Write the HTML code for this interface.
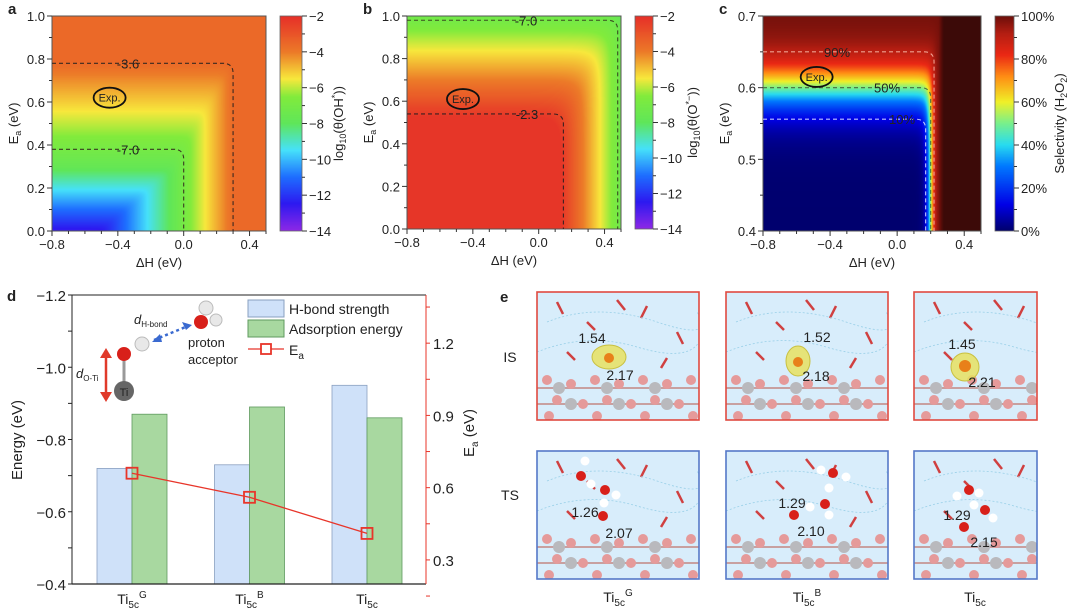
<!DOCTYPE html>
<html><head><meta charset="utf-8">
<style>
html,body{margin:0;padding:0;background:#fff;}
#wrap{position:relative;width:1080px;height:613px;overflow:hidden;font-family:"Liberation Sans",sans-serif;}
canvas{position:absolute;}
svg{position:absolute;left:0;top:0;}
text{font-family:"Liberation Sans",sans-serif;fill:#222;}
</style></head>
<body>
<div id="wrap">
<canvas id="ca" width="214" height="215" style="left:52px;top:16px"></canvas>
<canvas id="cba" width="22" height="215" style="left:280px;top:16px"></canvas>
<canvas id="cb" width="214" height="213" style="left:407px;top:16px"></canvas>
<canvas id="cbb" width="18" height="213" style="left:635px;top:16px"></canvas>
<canvas id="cc" width="218" height="215" style="left:763px;top:16px"></canvas>
<canvas id="cbc" width="19" height="215" style="left:995px;top:16px"></canvas>
<svg id="sv" width="1080" height="613"></svg>
</div>
<script>
// ---- data ----
const heatXTicks = [-0.8, -0.4, 0.0, 0.4];
const aYTicks = [0.0, 0.2, 0.4, 0.6, 0.8, 1.0];
const cYTicks = [0.4, 0.5, 0.6, 0.7];
const abBarTicks = [-2, -4, -6, -8, -10, -12, -14];
const cBarTicks = [0, 20, 40, 60, 80, 100];
const aContourLevels = ["-3.6", "-7.0"];
const aContourH = [0.3, 0.0];
const aContourE = [0.78, 0.38];
const bContourLevels = ["-2.3", "-7.0"];
const bContourH = [0.15, 0.48];
const bContourE = [0.54, 0.98];
const cContourLevels = ["90%", "50%", "10%"];
const cContourH = [0.22, 0.20, 0.17];
const cContourE = [0.65, 0.60, 0.556];
const categories = ["G", "B", ""];
const hbondStrength = [-0.72, -0.73, -0.95];
const adsorptionEnergy = [-0.87, -0.89, -0.86];
const eaValues = [0.66, 0.56, 0.41];
const dLeftTicks = [-1.2, -1.0, -0.8, -0.6, -0.4];
const dRightTicks = [0.3, 0.6, 0.9, 1.2];

const NS = "http://www.w3.org/2000/svg";
const sv = document.getElementById('sv');
function mk(tag, attrs, parent) {
  const e = document.createElementNS(NS, tag);
  for (const k in attrs) e.setAttribute(k, attrs[k]);
  (parent || sv).appendChild(e);
  return e;
}
function txt(x, y, s, size, anchor, extra) {
  const e = mk('text', Object.assign({x: x, y: y, 'font-size': size, 'text-anchor': anchor || 'start'}, extra || {}));
  e.textContent = s;
  return e;
}
const rainStops = [[-14,[140,40,230]],[-12.5,[45,25,240]],[-11,[30,110,255]],[-9.5,[70,225,250]],[-8,[95,230,90]],[-6.5,[130,235,60]],[-5.5,[248,232,60]],[-4,[236,122,40]],[-2,[230,48,40]]];
function interp(stops, v) {
  if (v <= stops[0][0]) return stops[0][1];
  for (let i = 1; i < stops.length; i++) {
    if (v <= stops[i][0]) {
      const t = (v - stops[i-1][0]) / (stops[i][0] - stops[i-1][0]);
      return stops[i-1][1].map((c, j) => c + (stops[i][1][j] - c) * t);
    }
  }
  return stops[stops.length-1][1];
}
const jetStops = [[0,[0,0,110]],[0.12,[0,0,230]],[0.3,[0,120,255]],[0.4,[40,220,240]],[0.5,[120,240,140]],[0.6,[240,240,40]],[0.72,[255,140,20]],[0.82,[235,40,20]],[0.92,[180,30,18]],[1,[110,15,10]]];
function smax(a, b, k) { const m = Math.max(a, b); return m + Math.log(Math.exp(k*(a-m)) + Math.exp(k*(b-m))) / k; }
function paint(id, fn) {
  const c = document.getElementById(id), g = c.getContext('2d');
  const im = g.createImageData(c.width, c.height);
  for (let y = 0; y < c.height; y++) for (let x = 0; x < c.width; x++) {
    const col = fn(x / (c.width - 1), 1 - y / (c.height - 1));
    const p = (y * c.width + x) * 4;
    im.data[p] = col[0]; im.data[p+1] = col[1]; im.data[p+2] = col[2]; im.data[p+3] = 255;
  }
  g.putImageData(im, 0, 0);
}
paint('ca', (fx, fy) => {
  const h = -0.8 + fx * 1.3, e = fy;
  const a = h * 11.33 - 7, b = e * 8.5 - 10.23 - Math.max(0, 0.3 - e) * 8;
  return interp(rainStops, Math.min(-3.55, smax(a, b, 5)));
});
paint('cb', (fx, fy) => {
  const h = -0.8 + fx * 1.3, e = fy;
  const v = -2.3 - smax((h - 0.15) * 14.2, (e - 0.54) * 10.7, 1.5);
  return interp(rainStops, Math.min(-2.15, v));
});
paint('cc', (fx, fy) => {
  const h = -0.8 + fx * 1.3, e = 0.4 + fy * 0.3;
  const z = smax((e - 0.6) * 45, (h - 0.2) * 73, 0.8);
  const s = 1 / (1 + Math.exp(-z));
  let col = interp(jetStops, s);
  if (h > 0.25) { const t = Math.min(1, (h - 0.25) / 0.03); col = col.map((c, j) => c + ([60,10,8][j] - c) * t); }
  return col;
});
paint('cba', (fx, fy) => interp(rainStops, -14 + fy * 12));
paint('cbb', (fx, fy) => interp(rainStops, -14 + fy * 12));
paint('cbc', (fx, fy) => interp(jetStops, fy));

function heatPanel(cfg) {
  const {L, R, T, B, ymin, ymax, yticks, ydec, letter} = cfg;
  const X = v => L + (v + 0.8) / 1.3 * (R - L);
  const Y = v => B - (v - ymin) / (ymax - ymin) * (B - T);
  const fr = mk('rect', {x: L, y: T, width: R - L, height: B - T, fill: 'none', stroke: '#555', 'stroke-width': 1});
  
  
  for (let v = -0.8; v <= 0.5001; v += 0.1) {
    const major = heatXTicks.some(t => Math.abs(t - v) < 1e-6);
    const tk = mk('line', {x1: X(v), x2: X(v), y1: B, y2: B + (major ? 5 : 3), stroke: '#333'});
    
    
  }
  heatXTicks.forEach(v => {
    const t = txt(X(v), B + 18, v.toFixed(1).replace('-', '−'), 13, 'middle');
    
    
  });
  const step = (yticks[1] - yticks[0]) / 2;
  for (let v = ymin; v <= ymax + 1e-6; v += step) {
    const major = yticks.some(t => Math.abs(t - v) < 1e-6);
    const tk = mk('line', {x1: L, x2: L - (major ? 5 : 3), y1: Y(v), y2: Y(v), stroke: '#333'});
    
    
  }
  yticks.forEach(v => {
    const t = txt(L - 7, Y(v) + 5, v.toFixed(ydec), 13, 'end');
    
    
  });
  const xt = txt((L + R) / 2, B + 36, 'ΔH (eV)', 13, 'middle');
  
  
  const yt = mk('text', {x: 0, y: 0, 'font-size': 13, 'text-anchor': 'middle', transform: `translate(${L - 34},${(T + B) / 2}) rotate(-90)`});
  yt.innerHTML = 'E<tspan font-size="9" dy="3">a</tspan><tspan dy="-3"> (eV)</tspan>';
  
  
  const lt = txt(L - 44, T - 2, letter, 15, 'start', {'font-weight': 'bold'});
  
  
  cfg.levels.forEach((lab, i) => {
    const hx = X(cfg.ch[i]), ey = Y(cfg.ce[i]), r = 10;
    const p = mk('path', {d: `M${L},${ey} H${hx - r} Q${hx},${ey} ${hx},${ey + r} V${B}`, fill: 'none', stroke: cfg.cstroke[i], 'stroke-width': 1.1, 'stroke-dasharray': '4,3'});
    
    
    const t = txt(cfg.lx[i], ey + 5, lab, 13, 'middle', {fill: '#1a1a1a'});
    
    
  });
  const ex = X(cfg.exp[0]), ey2 = Y(cfg.exp[1]);
  const el = mk('ellipse', {cx: ex, cy: ey2, rx: 16, ry: 10, fill: 'none', stroke: '#111', 'stroke-width': 1.8});
  
  
  const et = txt(ex, ey2 + 4, 'Exp.', 11, 'middle', {fill: cfg.expFill});
  
  
}
heatPanel({L: 52, R: 266, T: 16, B: 231, ymin: 0, ymax: 1, yticks: aYTicks, ydec: 1, letter: 'a',
  levels: aContourLevels, ch: aContourH, ce: aContourE, cstroke: ['#3a2a20', '#3a3a20'], lx: [128, 128],
  exp: [-0.45, 0.62], expFill: '#5a1a10'});
heatPanel({L: 407, R: 621, T: 16, B: 229, ymin: 0, ymax: 1, yticks: aYTicks, ydec: 1, letter: 'b',
  levels: bContourLevels, ch: bContourH, ce: bContourE, cstroke: ['#3a2020', '#3a4a20'], lx: [527, 526],
  exp: [-0.46, 0.61], expFill: '#5a1a10'});
heatPanel({L: 763, R: 981, T: 16, B: 231, ymin: 0.4, ymax: 0.7, yticks: cYTicks, ydec: 1, letter: 'c',
  levels: cContourLevels, ch: cContourH, ce: cContourE, cstroke: ['#f0a090', '#4a6a40', '#c0c8ff'], lx: [837, 887, 902],
  exp: [-0.48, 0.615], expFill: '#333'});

function cbar(L, R, T, B, ticks, fmt, title, nameSfx) {
  const fr = mk('rect', {x: L, y: T, width: R - L, height: B - T, fill: 'none', stroke: '#666', 'stroke-width': 0.8});
  
  
  const n = ticks.length - 1;
  for (let i = 0; i <= 2 * n; i++) {
    const y = T + i / (2 * n) * (B - T);
    const tk = mk('line', {x1: R, x2: R + (i % 2 ? 3 : 5), y1: y, y2: y, stroke: '#333'});
    
    
  }
  ticks.forEach((v, i) => {
    const t = txt(R + 7, T + i / n * (B - T) + 5, fmt(v), 13, 'start');
    
    
  });
  const tt = mk('text', {x: 0, y: 0, 'font-size': 13, 'text-anchor': 'middle', transform: `translate(${title[0]},${(T + B) / 2}) rotate(-90)`});
  tt.innerHTML = title[1];
  
  
}
cbar(280, 302, 16, 231, abBarTicks, v => String(v).replace('-', '−'), [343, 'log<tspan font-size="9" dy="3">10</tspan><tspan dy="-3">(θ(OH</tspan><tspan font-size="9" dy="-5">*</tspan><tspan dy="5">))</tspan>'], 'a');
cbar(635, 653, 16, 229, abBarTicks, v => String(v).replace('-', '−'), [697, 'log<tspan font-size="9" dy="3">10</tspan><tspan dy="-3">(θ(O</tspan><tspan font-size="9" dy="-5">*−</tspan><tspan dy="5">))</tspan>'], 'b');
cbar(995, 1014, 16, 231, cBarTicks.slice().reverse(), v => v + '%', [1064, 'Selectivity (H<tspan font-size="9" dy="3">2</tspan><tspan dy="-3">O</tspan><tspan font-size="9" dy="3">2</tspan><tspan dy="-3">)</tspan>'], 'c');

// ---- panel d ----
const dL = 72, dR = 426, dT = 295, dB = 584;
const yE = v => dT + (v + 1.2) / 0.8 * (dB - dT);
const yR = v => dB - (v - 0.2) / 1.2 * (dB - dT);
const xCat = i => 132 + i * 117.5;
const bw = 35;
categories.forEach((c, i) => {
  const b1 = mk('rect', {x: xCat(i) - bw, y: yE(hbondStrength[i]), width: bw, height: dB - yE(hbondStrength[i]), fill: '#cfe1f9', stroke: '#8aa0c0', 'stroke-width': 0.8});
  
  
  const b2 = mk('rect', {x: xCat(i), y: yE(adsorptionEnergy[i]), width: bw, height: dB - yE(adsorptionEnergy[i]), fill: '#a8d8a0', stroke: '#5f9a5f', 'stroke-width': 0.8});
  
  
  const lab = mk('text', {x: xCat(i), y: 604, 'font-size': 14, 'text-anchor': 'middle'});
  lab.innerHTML = 'Ti<tspan font-size="10" dy="4">5c</tspan>' + (c ? '<tspan font-size="10" dy="-10">' + c + '</tspan>' : '');
  
  
});
const eaLine = mk('polyline', {points: eaValues.map((v, i) => xCat(i) + ',' + yR(v)).join(' '), fill: 'none', stroke: '#e8352a', 'stroke-width': 1.3});


eaValues.forEach((v, i) => {
  const s = mk('rect', {x: xCat(i) - 5.5, y: yR(v) - 5.5, width: 11, height: 11, fill: 'none', stroke: '#e8352a', 'stroke-width': 1.8});
  
  
});
const dAx = mk('path', {d: `M${dL},${dB} V${dT} H${dR}`, fill: 'none', stroke: '#222', 'stroke-width': 1});


const dBot = mk('line', {x1: dL, x2: dR, y1: dB, y2: dB, stroke: '#222', 'stroke-width': 1.2});


const dRa = mk('line', {x1: dR, x2: dR, y1: dT, y2: dB, stroke: '#e8352a', 'stroke-width': 1});


for (let v = -1.2; v <= -0.4 + 1e-6; v += 0.1) {
  const tk = mk('line', {x1: dL, x2: dL - 4, y1: yE(v), y2: yE(v), stroke: '#222'});
  
  
}
dLeftTicks.forEach(v => {
  const t = txt(dL - 6, yE(v) + 6, v.toFixed(1).replace('-', '−'), 15, 'end');
  
  
});
for (let v = 0.15; v <= 1.35 + 1e-6; v += 0.15) {
  const tk = mk('line', {x1: dR, x2: dR + 4, y1: yR(v), y2: yR(v), stroke: '#e8352a'});
  
  
}
dRightTicks.forEach(v => {
  const t = txt(dR + 7, yR(v) + 6, v.toFixed(1), 15, 'start', {fill: '#e8352a'});
  
  
});
const dyT = mk('text', {x: 0, y: 0, 'font-size': 15, 'text-anchor': 'middle', transform: 'translate(22,440) rotate(-90)'});
dyT.textContent = 'Energy (eV)';


const dyR = mk('text', {x: 0, y: 0, 'font-size': 15, 'text-anchor': 'middle', fill: '#e8352a', transform: 'translate(474,433) rotate(-90)'});
dyR.innerHTML = 'E<tspan font-size="10" dy="4">a</tspan><tspan dy="-4"> (eV)</tspan>';


const dl = txt(7, 301, 'd', 15, 'start', {'font-weight': 'bold'});


</script>
<svg width="1080" height="613" style="position:absolute;left:0;top:0">
 <defs>
  <clipPath id="clipBox"><rect x="0" y="0" width="162" height="128"/></clipPath>
  <g id="lattice">
   <g stroke="#c8a0a0" stroke-width="2">
    <line x1="0" y1="96" x2="162" y2="96"/><line x1="0" y1="112" x2="162" y2="112"/>
   </g>
   <g fill="#e59a9a"><circle cx="10" cy="88" r="5"/><circle cx="34" cy="92" r="5"/><circle cx="58" cy="88" r="5"/><circle cx="82" cy="92" r="5"/><circle cx="106" cy="88" r="5"/><circle cx="130" cy="92" r="5"/><circle cx="154" cy="88" r="5"/>
    <circle cx="20" cy="108" r="5"/><circle cx="46" cy="112" r="5"/><circle cx="70" cy="108" r="5"/><circle cx="94" cy="112" r="5"/><circle cx="118" cy="108" r="5"/><circle cx="142" cy="112" r="5"/>
    <circle cx="12" cy="124" r="5"/><circle cx="60" cy="124" r="5"/><circle cx="108" cy="124" r="5"/><circle cx="156" cy="124" r="5"/></g>
   <g fill="#b9b9bd"><circle cx="22" cy="96" r="6"/><circle cx="70" cy="96" r="6"/><circle cx="118" cy="96" r="6"/>
    <circle cx="34" cy="112" r="6"/><circle cx="82" cy="112" r="6"/><circle cx="130" cy="112" r="6"/></g>
   <g stroke="#d04040" stroke-width="2.5"><line x1="20" y1="10" x2="26" y2="22"/><line x1="50" y1="30" x2="58" y2="38"/><line x1="110" y1="14" x2="104" y2="26"/><line x1="140" y1="40" x2="146" y2="52"/><line x1="80" y1="8" x2="88" y2="18"/><line x1="30" y1="60" x2="38" y2="68"/><line x1="130" y1="66" x2="124" y2="76"/></g>
   <g stroke="#9ad0e8" stroke-width="0.8" stroke-dasharray="2,2" fill="none"><path d="M10,30 Q60,10 120,30 T160,20"/><path d="M0,60 Q50,40 100,55 T162,50"/></g>
  </g>
 </defs>
 <g>
  <line x1="106" y1="354" x2="106" y2="396" stroke="#e03a2a" stroke-width="2.5"/>
  <polygon points="100,358 106,348 112,358" fill="#e03a2a"/>
  <polygon points="100,392 106,402 112,392" fill="#e03a2a"/>
  <text x="76" y="378" font-size="13" font-style="italic">d<tspan font-size="8" font-style="normal" dy="3">O-Ti</tspan></text>
  <line x1="124" y1="382" x2="124" y2="358" stroke="#999" stroke-width="3"/>
  <circle cx="124" cy="391" r="10" fill="#666"/><text x="124" y="396" font-size="11" text-anchor="middle" fill="#eee">Ti</text>
  <circle cx="124" cy="354" r="7" fill="#d8201a"/>
  <circle cx="142" cy="344" r="7" fill="#e8e8e8" stroke="#bbb"/>
  <line x1="154" y1="340" x2="188" y2="326" stroke="#3a6ad0" stroke-width="2.5" stroke-dasharray="3,3"/>
  <polygon points="152,342 160,334 162,342" fill="#3a6ad0"/><polygon points="192,325 182,322 186,330" fill="#3a6ad0"/>
  <text x="134" y="324" font-size="13" font-style="italic">d<tspan font-size="8" font-style="normal" dy="3">H-bond</tspan></text>
  <circle cx="201" cy="322" r="7" fill="#d8201a"/><circle cx="206" cy="308" r="7" fill="#e8e8e8" stroke="#bbb"/><circle cx="216" cy="320" r="6" fill="#e8e8e8" stroke="#bbb"/>
  <text x="188" y="347" font-size="13">proton</text><text x="188" y="364" font-size="13">acceptor</text>
 </g>
 <g>
  <rect x="248" y="300" width="36" height="17" fill="#cfe1f9" stroke="#8aa0c0"/>
  <text x="289" y="314" font-size="14">H-bond strength</text>
  <rect x="248" y="320" width="36" height="17" fill="#a8d8a0" stroke="#5f9a5f"/>
  <text x="289" y="334" font-size="14">Adsorption energy</text>
  <line x1="248" y1="349" x2="284" y2="349" stroke="#e8352a" stroke-width="1.3"/>
  <rect x="261" y="344" width="10" height="10" fill="#fff" stroke="#e8352a" stroke-width="1.8"/>
  <text x="289" y="355" font-size="14">E<tspan font-size="10" dy="4">a</tspan></text>
 </g>
 <text x="500" y="302" font-size="15" font-weight="bold">e</text>
 <text x="510" y="362" font-size="14" text-anchor="middle">IS</text>
 <text x="510" y="500" font-size="14" text-anchor="middle">TS</text>
 <g transform="translate(537,292)"><rect width="162" height="128" fill="#d8edfb"/><g clip-path="url(#clipBox)"><use href="#lattice"/></g><rect width="162" height="128" fill="none" stroke="#e04a40" stroke-width="1.6"/></g>
 <g transform="translate(726,292)"><rect width="162" height="128" fill="#d8edfb"/><g clip-path="url(#clipBox)"><use href="#lattice"/></g><rect width="162" height="128" fill="none" stroke="#e04a40" stroke-width="1.6"/></g>
 <g transform="translate(914,292)"><rect width="123" height="128" fill="#d8edfb"/><g clip-path="url(#clipBox)"><use href="#lattice"/></g><rect x="123" width="50" height="130" fill="#fff"/><rect width="123" height="128" fill="none" stroke="#e04a40" stroke-width="1.6"/></g>
 <g transform="translate(537,451)"><rect width="162" height="128" fill="#d8edfb"/><g clip-path="url(#clipBox)"><use href="#lattice"/></g><rect width="162" height="128" fill="none" stroke="#5578c8" stroke-width="1.6"/></g>
 <g transform="translate(726,451)"><rect width="162" height="128" fill="#d8edfb"/><g clip-path="url(#clipBox)"><use href="#lattice"/></g><rect width="162" height="128" fill="none" stroke="#5578c8" stroke-width="1.6"/></g>
 <g transform="translate(914,451)"><rect width="123" height="128" fill="#d8edfb"/><g clip-path="url(#clipBox)"><use href="#lattice"/></g><rect x="123" width="50" height="130" fill="#fff"/><rect width="123" height="128" fill="none" stroke="#5578c8" stroke-width="1.6"/></g>
 <g fill="#e8e060" fill-opacity="0.85" stroke="#c8c040">
  <ellipse cx="609" cy="357" rx="17" ry="12"/><ellipse cx="798" cy="361" rx="12" ry="15"/><ellipse cx="965" cy="367" rx="14" ry="14"/>
 </g>
 <g fill="#e8801a"><circle cx="609" cy="358" r="5"/><circle cx="798" cy="362" r="5"/><circle cx="965" cy="366" r="6"/></g>
 <g>
  <circle cx="581" cy="476" r="5" fill="#d8201a"/><circle cx="605" cy="490" r="5" fill="#d8201a"/><circle cx="603" cy="516" r="5" fill="#d8201a"/>
  <circle cx="585" cy="461" r="4.5" fill="#fff"/><circle cx="591" cy="484" r="4.5" fill="#fff"/><circle cx="616" cy="495" r="4.5" fill="#fff"/><circle cx="604" cy="503" r="4.5" fill="#fff"/>
  <circle cx="833" cy="473" r="5" fill="#d8201a"/><circle cx="825" cy="504" r="5" fill="#d8201a"/><circle cx="794" cy="515" r="5" fill="#d8201a"/>
  <circle cx="821" cy="470" r="4.5" fill="#fff"/><circle cx="846" cy="477" r="4.5" fill="#fff"/><circle cx="829" cy="488" r="4.5" fill="#fff"/><circle cx="810" cy="507" r="4.5" fill="#fff"/><circle cx="829" cy="515" r="4.5" fill="#fff"/>
  <circle cx="969" cy="490" r="5" fill="#d8201a"/><circle cx="985" cy="510" r="5" fill="#d8201a"/><circle cx="964" cy="527" r="5" fill="#d8201a"/>
  <circle cx="957" cy="496" r="4.5" fill="#fff"/><circle cx="979" cy="493" r="4.5" fill="#fff"/><circle cx="974" cy="505" r="4.5" fill="#fff"/><circle cx="993" cy="518" r="4.5" fill="#fff"/>
 </g>
 <g font-size="14" text-anchor="middle">
  <text x="592" y="343">1.54</text><text x="620" y="380">2.17</text>
  <text x="817" y="342">1.52</text><text x="816" y="381">2.18</text>
  <text x="962" y="349">1.45</text><text x="982" y="387">2.21</text>
  <text x="585" y="517">1.26</text><text x="619" y="538">2.07</text>
  <text x="792" y="508">1.29</text><text x="811" y="536">2.10</text>
  <text x="957" y="520">1.29</text><text x="984" y="547">2.15</text>
 </g>
 <g font-size="14" text-anchor="middle">
  <text x="618" y="602">Ti<tspan font-size="10" dy="4">5c</tspan><tspan font-size="10" dy="-10">G</tspan></text>
  <text x="807" y="602">Ti<tspan font-size="10" dy="4">5c</tspan><tspan font-size="10" dy="-10">B</tspan></text>
  <text x="975" y="602">Ti<tspan font-size="10" dy="4">5c</tspan></text>
 </g>
</svg>
</body></html>
